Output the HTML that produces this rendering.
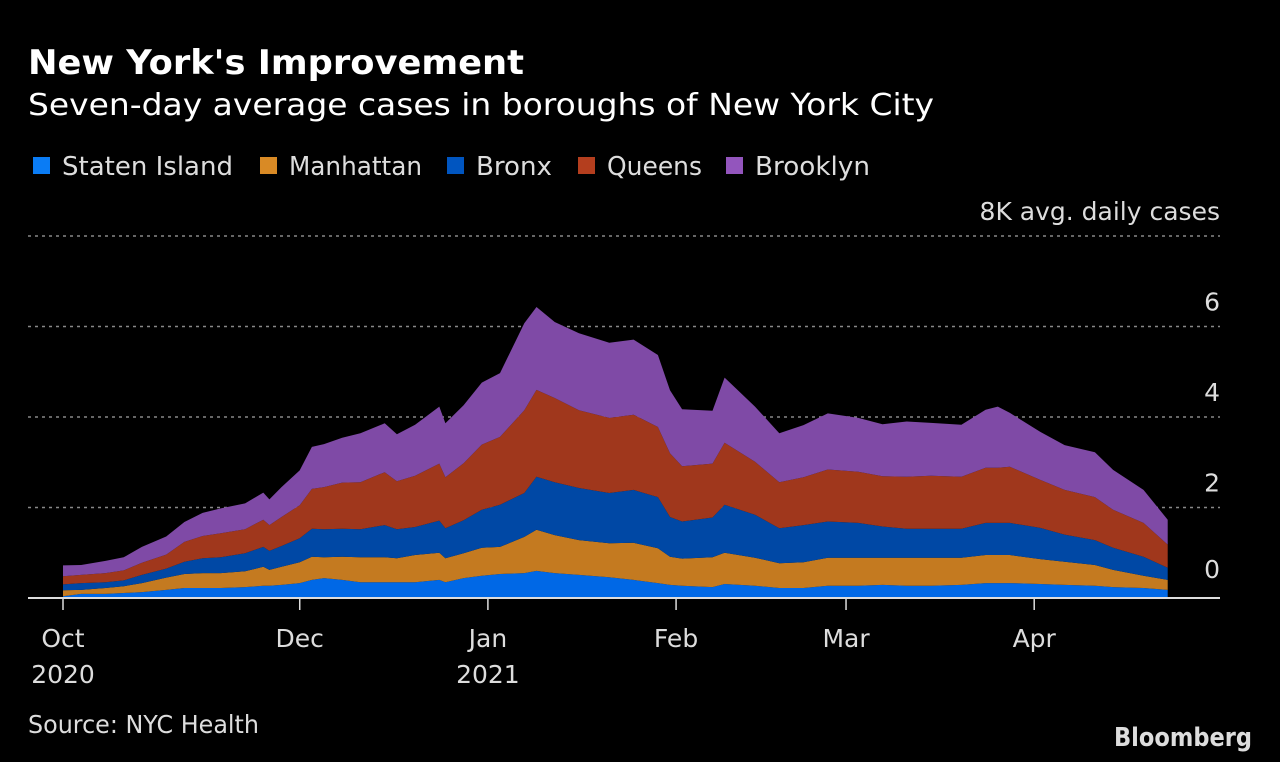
<!DOCTYPE html>
<html><head><meta charset="utf-8"><style>
html,body{margin:0;padding:0;background:#000;}
svg{display:block;font-family:"DejaVu Sans","Liberation Sans",sans-serif;}
</style></head><body>
<svg id="chart" width="1280" height="762" viewBox="0 0 1280 762" xmlns="http://www.w3.org/2000/svg">
<rect width="1280" height="762" fill="#000"/>
<text x="28" y="74" fill="#fff" font-size="34" font-weight="bold" textLength="496" lengthAdjust="spacingAndGlyphs">New York's Improvement</text>
<text x="28" y="115" fill="#fff" font-size="30" textLength="906" lengthAdjust="spacingAndGlyphs">Seven-day average cases in boroughs of New York City</text>
<g id="legend"></g>
<g id="grid"></g>
<g id="areas"></g>
<g id="axes"></g>
<text x="28" y="733" fill="#ddd" font-size="25" textLength="231" lengthAdjust="spacingAndGlyphs">Source: NYC Health</text>
<text x="1252" y="746" fill="#ddd" font-size="26" font-weight="bold" text-anchor="end" textLength="138" lengthAdjust="spacingAndGlyphs">Bloomberg</text>
</svg>
<script>
const days = [0,3,7,10,13,17,20,23,26,30,33,34,36,39,41,43,46,49,53,55,58,62,63,66,69,72,76,78,81,85,90,94,98,100,102,107,109,114,118,122,126,131,135,139,143,148,152,154,156,161,165,170,173,178,182];
const statenIsland = [40,90,90,110,130,180,220,220,220,240,270,270,290,330,400,440,400,350,350,350,350,400,350,440,490,530,550,600,550,510,460,400,330,290,270,240,310,270,220,220,270,270,290,270,270,290,330,330,330,310,290,270,240,220,180];
const manhattan = [130,90,130,150,200,270,310,330,330,350,420,350,400,460,510,460,510,550,550,530,600,600,530,550,620,600,800,910,840,770,750,820,770,620,600,660,690,620,550,570,620,620,600,620,620,600,620,620,620,550,510,460,380,270,220];
const bronx = [130,150,130,130,180,200,270,330,350,400,440,420,460,530,620,620,620,620,710,640,620,710,660,730,840,930,970,1170,1170,1150,1110,1170,1130,880,820,880,1060,950,770,820,800,770,690,640,640,640,710,710,710,690,600,550,490,420,270];
const queens = [180,180,200,220,270,310,440,490,530,530,600,570,640,730,880,930,1020,1040,1170,1060,1130,1260,1130,1260,1440,1500,1830,1920,1860,1720,1660,1660,1550,1410,1220,1190,1370,1170,1020,1060,1150,1130,1110,1150,1170,1150,1220,1220,1240,1060,990,950,840,750,510];
const brooklyn = [240,220,270,290,350,400,440,510,550,570,600,570,660,770,930,950,990,1080,1080,1040,1130,1260,1190,1280,1370,1410,1920,1830,1680,1700,1660,1660,1590,1390,1260,1170,1440,1220,1080,1150,1240,1190,1150,1220,1170,1150,1280,1350,1190,1060,990,990,880,730,550];
const seriesNames = ["Staten Island","Manhattan","Bronx","Queens","Brooklyn"];
const yTicks = [0,2000,4000,6000,8000];
const yTickLabels = ["0","2","4","6","8K avg. daily cases"];
const xTickDays = [0,39,70,101,129,160];
const xTickLabels = ["Oct","Dec","Jan","Feb","Mar","Apr"];
const xYearLabels = ["2020","","2021","","",""];

const colors = ["#0068e6","#c47a20","#0048a5","#a0371c","#7f4aa6"];
const legendColors = ["#0a7cf5","#d98a25","#0055c0","#b43e1e","#9355bd"];
const NS="http://www.w3.org/2000/svg";
const x = d => 63 + d*6.07;
const y = v => 598 - v*45.25/1000;
function mk(tag, attrs, parent){const e=document.createElementNS(NS,tag);for(const k in attrs)e.setAttribute(k,attrs[k]);parent.appendChild(e);return e;}

const grid=document.getElementById('grid');
yTicks.forEach((t,i)=>{
  if(t>0){const l=mk('line',{x1:28,x2:1220,y1:y(t),y2:y(t),stroke:'#888','stroke-width':1.5,'stroke-dasharray':'3,4'},grid);
  
  }
  const tx=mk('text',{x:1220,y:y(t)-(t===0?20:16),fill:'#ddd','font-size':25,'text-anchor':'end'},grid);
  tx.textContent=yTickLabels[i];
  
  
});

const series=[statenIsland,manhattan,bronx,queens,brooklyn];
const areas=document.getElementById('areas');
let base=days.map(()=>0);
series.forEach((s,si)=>{
  const top=base.map((b,i)=>b+s[i]);
  let d='M'+days.map((dd,i)=>x(dd).toFixed(1)+','+y(top[i]).toFixed(1)).join('L');
  for(let i=days.length-1;i>=0;i--) d+='L'+x(days[i]).toFixed(1)+','+y(base[i]).toFixed(1);
  d+='Z';
  const p=mk('path',{d:d,fill:colors[si]},areas);
  
  
  base=top;
});

const axes=document.getElementById('axes');
const bl=mk('line',{x1:28,x2:1220,y1:598,y2:598,stroke:'#ddd','stroke-width':2},axes);


xTickDays.forEach((dd,i)=>{
  const tk=mk('line',{x1:x(dd),x2:x(dd),y1:598,y2:610,stroke:'#ddd','stroke-width':1.5},axes);
  
  
  const t=mk('text',{x:x(dd),y:647,fill:'#ddd','font-size':25,'text-anchor':'middle'},axes);
  t.textContent=xTickLabels[i];
  
  
  if(xYearLabels[i]){const t2=mk('text',{x:x(dd),y:683,fill:'#ddd','font-size':25,'text-anchor':'middle'},axes);
  t2.textContent=xYearLabels[i];
  
  }
});

const legend=document.getElementById('legend');
const lx=[33,260,447,578,726];
const tw=[171,133,76,95,115];
seriesNames.forEach((n,i)=>{
  const r=mk('rect',{x:lx[i],y:157,width:17,height:17,fill:legendColors[i]},legend);
  
  
  const t=mk('text',{x:lx[i]+29,y:175,fill:'#ddd','font-size':26,textLength:tw[i],lengthAdjust:'spacingAndGlyphs'},legend);
  t.textContent=n;
  
  
});
</script>
</body></html>
